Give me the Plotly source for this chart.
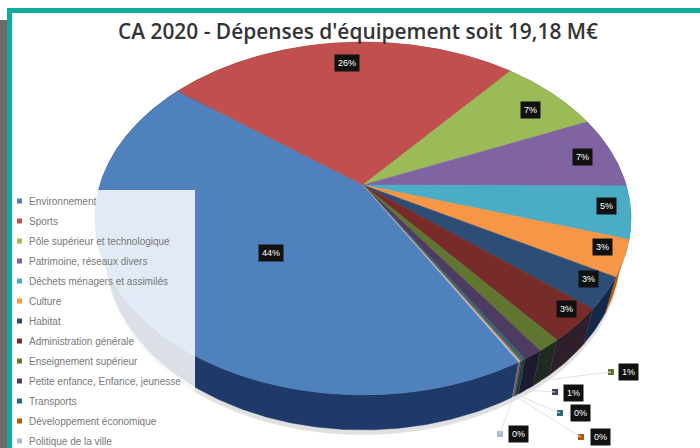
import numpy as np
import plotly.graph_objects as go

categories = [
    "Environnement",
    "Sports",
    "Pôle supérieur et technologique",
    "Patrimoine, réseaux divers",
    "Déchets ménagers et assimilés",
    "Culture",
    "Habitat",
    "Administration générale",
    "Enseignement supérieur",
    "Petite enfance, Enfance, jeunesse",
    "Transports",
    "Développement économique",
    "Politique de la ville",
]
values = [43.8, 25.5, 7.4, 6.6, 4.8, 3.3, 2.9, 3.1, 1.2, 1.0, 0.2, 0.1, 0.1]
colors = [
    "#4F81BD", "#C0504D", "#9BBB59", "#8064A2", "#4BACC6", "#F79646", "#2C4D75",
    "#772C2A", "#5F7530", "#4D3B62", "#276A7C", "#B65708", "#A9B8DC",
]
side_colors = [
    "#1F3A68", "#7A2E2C", "#5F7530", "#4D3B62", "#276A7C", "#B65708", "#14284A",
    "#2E1F2C", "#1F2A22", "#1C1C30", "#173F4A", "#6D3405", "#5C6C90",
]

# where the percent boxes sit, pixels
label_pos = [
    (271, 253), (347, 63), (530, 110), (582, 157), (606, 206), (602, 247), (588, 279),
    (566, 309), (628, 372), (573, 393), (580, 413), (600, 437), (518, 434),
]
# small slices get a key square and a leader line
callout_keys = {8: (611, 372), 9: (555, 392), 10: (560, 413), 11: (581, 437), 12: (500, 434)}

title = "CA 2020 - Dépenses d'équipement soit 19,18 M€"

# pie drawn in perspective, so the slices are projected by hand
cx, cy = 363, 185
a, b, k = 263, 170, 0.19
depth = 35
rim_scale = 0.96  # lower rim is a bit narrower
start = 150.4


def project(deg):
    t = np.radians(deg)
    u, v = np.sin(t), np.cos(t)
    return cx + a * u / (1 + k * v), cy - b * v / (1 + k * v)


def lower_rim(x, y):
    return cx + (x - cx) * rim_scale, y + depth


fig = go.Figure()

# soft shadow under the pie
sx, sy = lower_rim(*project(np.linspace(0, 360, 200)))
fig.add_trace(go.Scatter(x=sx, y=sy + 5, fill="toself", mode="none",
                         fillcolor="rgba(120,120,120,0.22)", hoverinfo="skip"))

edges = start + np.cumsum([0] + values) * 360 / sum(values)
for i in range(len(values)):
    n = max(3, int((edges[i + 1] - edges[i]) * 2))
    x, y = project(np.linspace(edges[i], edges[i + 1], n))
    lx, ly = lower_rim(x, y)
    fig.add_trace(go.Scatter(x=np.r_[x, lx[::-1]], y=np.r_[y, ly[::-1]], fill="toself",
                             mode="lines", line=dict(color=side_colors[i], width=0.5),
                             fillcolor=side_colors[i], hoverinfo="skip"))
for i in range(len(values)):
    n = max(3, int((edges[i + 1] - edges[i]) * 2))
    x, y = project(np.linspace(edges[i], edges[i + 1], n))
    fig.add_trace(go.Scatter(x=np.r_[cx, x, cx], y=np.r_[cy, y, cy], fill="toself",
                             mode="lines", line=dict(color=colors[i], width=0.5),
                             fillcolor=colors[i], hoverinfo="skip"))

shapes = [
    # veil of the legend box over the pie
    dict(type="rect", x0=12, x1=195, y0=190, y1=448, fillcolor="rgba(255,255,255,0.84)", line_width=0),
    # frame of the slide
    dict(type="rect", x0=0, x1=8, y0=20, y1=448, fillcolor="#6b6b6b", line_width=0),
    dict(type="rect", x0=7, x1=12, y0=8, y1=448, fillcolor="#10AD9D", line_width=0),
    dict(type="rect", x0=7, x1=700, y0=8, y1=13, fillcolor="#10AD9D", line_width=0),
]

annotations = [
    dict(x=358, y=31, text=title, showarrow=False,
         font=dict(family="Open Sans", size=20.9, color="#333333", weight=600)),
]

for i, (name, color) in enumerate(zip(categories, colors)):
    ly = 201 + i * 20
    shapes.append(dict(type="rect", x0=17, x1=22, y0=ly - 2.5, y1=ly + 2.5, fillcolor=color, line_width=0))
    annotations.append(dict(x=27, y=ly, text=name, showarrow=False, xanchor="left",
                            font=dict(family="Liberation Sans", size=10, color="#777777")))

for i, (lx, ly) in enumerate(label_pos):
    annotations.append(dict(x=lx, y=ly, text=f"{round(values[i])}%", showarrow=False,
                            bgcolor="#111111", borderpad=3,
                            font=dict(family="Liberation Sans", size=9, color="white")))

for i, (kx, ky) in callout_keys.items():
    shapes.append(dict(type="rect", x0=kx - 3, x1=kx + 3, y0=ky - 3, y1=ky + 3,
                       fillcolor=colors[i], line_width=0))
    rx, ry = lower_rim(*project((edges[i] + edges[i + 1]) / 2))
    shapes.append(dict(type="line", x0=rx, y0=ry, x1=kx, y1=ky,
                       line=dict(color="#e2e2e2", width=1)))

fig.update_layout(
    width=700,
    height=448,
    margin=dict(l=0, r=0, t=0, b=0),
    paper_bgcolor="white",
    plot_bgcolor="white",
    showlegend=False,
    xaxis=dict(range=[0, 700], visible=False, fixedrange=True),
    yaxis=dict(range=[448, 0], visible=False, fixedrange=True),
    shapes=shapes,
    annotations=annotations,
)

fig.write_html("out.html", config=dict(displayModeBar=False),
               post_script="document.body.style.margin='0';document.body.style.overflow='hidden';")
